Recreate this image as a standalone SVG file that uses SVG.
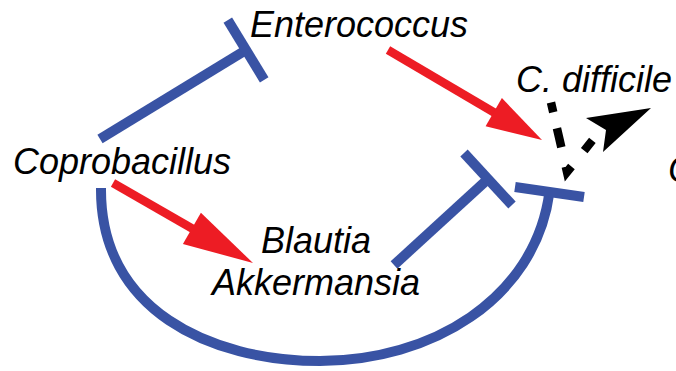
<svg xmlns="http://www.w3.org/2000/svg" width="676" height="371" viewBox="0 0 676 371">
<style>
.lbl{font-family:"Liberation Sans",Arial,sans-serif;font-style:italic;font-size:36px;fill:#000}
.inh{stroke:#3953A4;stroke-width:10;fill:none;stroke-linecap:butt}
.act{stroke:#ED1C24;stroke-width:8.5;fill:none;stroke-linecap:butt}
.acth{fill:#ED1C24;stroke:none}
</style>
<rect width="676" height="371" fill="#fff"/>
<g id="connectors">
  <!-- Coprobacillus inhibits Enterococcus -->
  <line class="inh" x1="100" y1="139" x2="246" y2="50"/>
  <line class="inh" x1="227.8" y1="20.1" x2="264.2" y2="79.9"/>
  <!-- Enterococcus activates C. difficile -->
  <line class="act" x1="388" y1="50" x2="495" y2="113"/>
  <polygon class="acth" points="542,140 501.9,98 485.6,126.3"/>
  <!-- Coprobacillus activates Blautia/Akkermansia -->
  <line class="act" x1="113" y1="183" x2="193" y2="229"/>
  <polygon class="acth" points="253,263 200.9,212.8 182.9,244"/>
  <!-- Blautia/Akkermansia inhibit C. difficile -->
  <line class="inh" x1="394" y1="265" x2="488" y2="179"/>
  <line class="inh" x1="464" y1="153" x2="512" y2="205"/>
  <!-- Coprobacillus inhibits C. difficile (arc) -->
  <path class="inh" d="M101,188 C100,310 210,361 320,361 C430,361 535,300 549.5,192"/>
  <line class="inh" x1="515" y1="187" x2="584" y2="197"/>
  <!-- C. difficile dashed loop -->
  <path d="M551,102.5 L567,172 L597,134.7" fill="none" stroke="#000" stroke-width="8.5" stroke-linejoin="miter" stroke-miterlimit="6" stroke-dasharray="10 16.5 19.5 20 12.4 20.4 13 100"/>
  <polygon points="651,108 586,118 606,130 603,152" fill="#000"/>
</g>
<g id="enterococcus"><text class="lbl" x="250" y="37">Enterococcus</text></g>
<g id="cdifficile"><text class="lbl" x="516" y="92">C. difficile</text></g>
<g id="coprobacillus"><text class="lbl" x="13" y="174">Coprobacillus</text></g>
<g id="blautia-akkermansia">
  <text class="lbl" x="316" y="253" text-anchor="middle">Blautia</text>
  <text class="lbl" x="316" y="295" text-anchor="middle">Akkermansia</text>
</g>
<g id="partial-c"><text class="lbl" x="668" y="182">C</text></g>
</svg>
